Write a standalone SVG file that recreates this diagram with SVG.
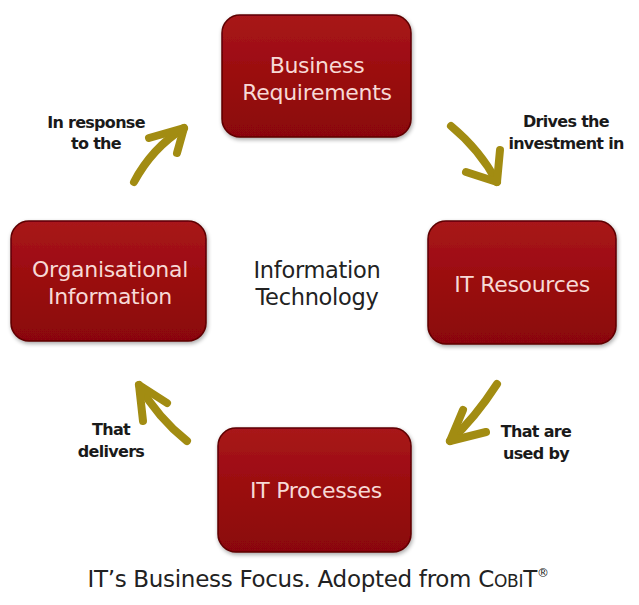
<svg xmlns="http://www.w3.org/2000/svg" width="639" height="605" viewBox="0 0 639 605">
<defs>
<linearGradient id="boxg" x1="0" y1="0" x2="0" y2="1">
<stop offset="0" stop-color="#a8161a"/>
<stop offset="0.5" stop-color="#9a0b0f"/>
<stop offset="1" stop-color="#8a0609"/>
</linearGradient>
<filter id="sh" x="-10%" y="-10%" width="125%" height="125%">
<feGaussianBlur in="SourceAlpha" stdDeviation="2"/>
<feOffset dx="1" dy="2" result="b"/>
<feComponentTransfer><feFuncA type="linear" slope="0.35"/></feComponentTransfer>
<feMerge><feMergeNode/><feMergeNode in="SourceGraphic"/></feMerge>
</filter>
</defs>
<style>
.box{fill:url(#boxg);stroke:#5e0003;stroke-width:1.5;filter:url(#sh)}
.bt{font-family:"DejaVu Sans","Liberation Sans",sans-serif;font-size:22px;fill:#f7d9d6;text-anchor:middle;letter-spacing:-0.3px}
.ct{font-family:"DejaVu Sans","Liberation Sans",sans-serif;font-size:22.5px;fill:#222;text-anchor:middle;letter-spacing:-0.3px}
.lt{font-family:"DejaVu Sans","Liberation Sans",sans-serif;font-size:16px;font-weight:bold;fill:#1a1a1a;text-anchor:middle;letter-spacing:-0.7px}
.ar{fill:none;stroke:#a28c12;stroke-width:8;stroke-linecap:round;stroke-linejoin:round}
.cap{font-family:"DejaVu Sans","Liberation Sans",sans-serif;font-size:23px;fill:#222;text-anchor:middle;letter-spacing:-0.3px}
</style>
<rect width="639" height="605" fill="#fff"/>
<g id="connectors">
<g id="arrow-in-response">
<path class="ar" d="M134,182 Q152,148 184,128"/>
<path class="ar" d="M149,138 L184,128 L177,153"/>
</g>
<g id="arrow-drives">
<path class="ar" d="M451,126 Q480,150 497,182"/>
<path class="ar" d="M500,150 L497,182 L466,172"/>
</g>
<g id="arrow-used-by">
<path class="ar" d="M497,384 Q475,418 450,441"/>
<path class="ar" d="M463,410 L450,441 L486,432"/>
</g>
<g id="arrow-delivers">
<path class="ar" d="M187,441 Q158,418 139,385"/>
<path class="ar" d="M143,421 L139,385 L167,403"/>
</g>
<text class="lt" x="96" y="128">In response</text>
<text class="lt" x="96" y="149">to the</text>
<text class="lt" x="566" y="127">Drives the</text>
<text class="lt" x="566" y="149">investment in</text>
<text class="lt" x="536" y="437">That are</text>
<text class="lt" x="536" y="459">used by</text>
<text class="lt" x="111" y="435">That</text>
<text class="lt" x="111" y="457">delivers</text>
</g>
<g id="node-business-requirements">
<rect class="box" x="222" y="15" width="189" height="122" rx="18"/>
<text class="bt" x="317" y="73">Business</text>
<text class="bt" x="317" y="100">Requirements</text>
</g>
<g id="node-it-resources">
<rect class="box" x="428" y="221" width="188" height="123" rx="18"/>
<text class="bt" x="522" y="292">IT Resources</text>
</g>
<g id="node-it-processes">
<rect class="box" x="218" y="428" width="193" height="124" rx="18"/>
<text class="bt" x="316" y="498">IT Processes</text>
</g>
<g id="node-organisational-information">
<rect class="box" x="11" y="221" width="195" height="120" rx="18"/>
<text class="bt" x="110" y="277">Organisational</text>
<text class="bt" x="110" y="304">Information</text>
</g>
<g id="center-label">
<text class="ct" x="317" y="278">Information</text>
<text class="ct" x="317" y="305">Technology</text>
</g>
<text class="cap" x="318" y="587">IT’s Business Focus. Adopted from C<tspan font-size="17">OBI</tspan>T<tspan font-size="12" dy="-10">®</tspan></text>
</svg>
